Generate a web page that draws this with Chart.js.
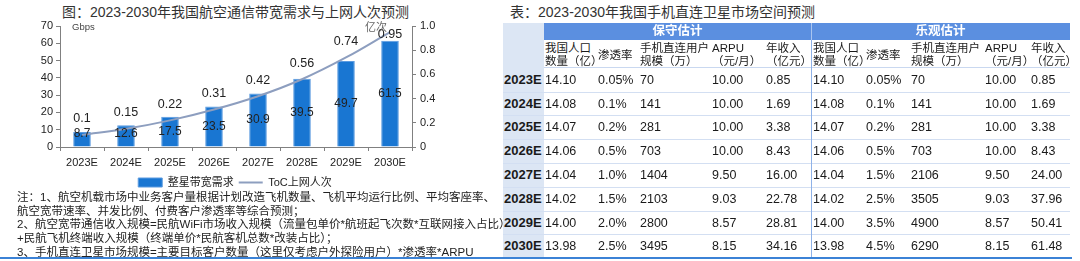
<!DOCTYPE html>
<html>
<head>
<meta charset="utf-8">
<script src="https://cdn.jsdelivr.net/npm/chart.js@4.4.0/dist/chart.umd.min.js"></script>
<style>
  body { margin: 0; width: 1080px; height: 261px; overflow: hidden; background: #fff;
         font-family: "Liberation Sans", "Noto Sans CJK SC", sans-serif; color: #1a1a1a; }
  .abs { position: absolute; white-space: nowrap; }
  .title { font-size: 14px; line-height: 18px; color: #333; top: 3px; }
  #chartBox { position: absolute; left: 0; top: 0; width: 470px; height: 198px; }
  #notes { left: 17px; top: 191px; font-size: 11.5px; line-height: 13.7px; color: #222; }
  .hd1 { color: #fff; font-weight: bold; font-size: 12.5px; line-height: 17px; text-align: center; }
  .hd2 { font-size: 11.5px; line-height: 13px; }
  .yr { font-weight: bold; font-size: 13px; line-height: 16px; }
  .val { font-size: 12.5px; line-height: 16px; }
</style>
</head>
<body>
<div class="abs title" style="left:62px">图：2023-2030年我国航空通信带宽需求与上网人次预测</div>
<div id="chartBox"><canvas id="chart" width="470" height="198"></canvas></div>
<div class="abs" style="left:72px; top:21px; font-size:9.5px; line-height:12px; color:#444">Gbps</div>
<div class="abs" style="left:365px; top:20px; font-size:11px; line-height:14px; color:#666">亿次</div>
<div class="abs" id="notes">注：1、航空机载市场中业务客户量根据计划改造飞机数量、飞机平均运行比例、平均客座率、<br>航空宽带速率、并发比例、付费客户渗透率等综合预测；<br>2、航空宽带通信收入规模=民航WiFi市场收入规模（流量包单价*航班起飞次数*互联网接入占比）<br>+民航飞机终端收入规模（终端单价*民航客机总数*改装占比）；<br>3、手机直连卫星市场规模=主要目标客户数量（这里仅考虑户外探险用户）*渗透率*ARPU</div>
<div class="abs title" style="left:510px">表：2023-2030年我国手机直连卫星市场空间预测</div>
<div id="tbl"></div>
<div class="abs" style="left:0; top:257px; width:1072px; height:2px; background:#3b82d6"></div>

<script>
// 图：带宽需求 + 上网人次
const years = ["2023E", "2024E", "2025E", "2026E", "2027E", "2028E", "2029E", "2030E"];
const bandwidth = [8.7, 12.6, 17.5, 23.5, 30.9, 39.5, 49.7, 61.5];
const visits = [0.1, 0.15, 0.22, 0.31, 0.42, 0.56, 0.74, 0.95];
const seriesNames = ["整星带宽需求", "ToC上网人次"];

// 表：手机直连卫星市场
const population = ["14.10", "14.08", "14.07", "14.06", "14.04", "14.02", "14.00", "13.98"];
const rateCons = ["0.05%", "0.1%", "0.2%", "0.5%", "1.0%", "1.5%", "2.0%", "2.5%"];
const usersCons = ["70", "141", "281", "703", "1404", "2103", "2800", "3495"];
const arpu = ["10.00", "10.00", "10.00", "10.00", "9.50", "9.03", "8.57", "8.15"];
const revCons = ["0.85", "1.69", "3.38", "8.43", "16.00", "22.78", "28.81", "34.16"];
const rateOpt = ["0.05%", "0.1%", "0.2%", "0.5%", "1.5%", "2.5%", "3.5%", "4.5%"];
const usersOpt = ["70", "141", "281", "703", "2106", "3505", "4900", "6290"];
const revOpt = ["0.85", "1.69", "3.38", "8.43", "24.00", "37.96", "50.41", "61.48"];
const groupNames = ["保守估计", "乐观估计"];
const colHeads = [["我国人口", "数量（亿）"], ["渗透率"], ["手机直连用户", "规模（万）"], ["ARPU", "（元/月）"], ["年收入", "（亿元）"]];

const FONT = '"Liberation Sans", "Noto Sans CJK SC", sans-serif';

// 数值标签：柱子居中，折线点上方
const valueLabels = {
  id: "valueLabels",
  afterDatasetsDraw(chart) {
    const { ctx, chartArea } = chart;
    ctx.save();
    ctx.textAlign = "center";
    ctx.textBaseline = "middle";
    ctx.fillStyle = "#222";
    ctx.font = "12px " + FONT;
    chart.getDatasetMeta(0).data.forEach((bar, i) => {
      const y = Math.min((bar.y + bar.base) / 2, chartArea.bottom - 13);
      ctx.fillText(bandwidth[i], bar.x, y);
    });
    ctx.font = "12.5px " + FONT;
    chart.getDatasetMeta(1).data.forEach((pt, i) => {
      const y = Math.max(pt.y - 16, chartArea.top + 9);
      ctx.fillText(visits[i], pt.x, y);
    });
    ctx.restore();
  }
};

const axisColor = "#808080";
new Chart(document.getElementById("chart"), {
  type: "bar",
  data: {
    labels: years,
    datasets: [
      { label: seriesNames[0], data: bandwidth, yAxisID: "y", order: 1,
        backgroundColor: "#1976d2", borderColor: "#5c9be0", borderWidth: 1,
        categoryPercentage: 1, barPercentage: 0.4, pointStyle: "rect" },
      { type: "line", label: seriesNames[1], data: visits, yAxisID: "y1", order: 0,
        borderColor: "#8d9ebf", borderWidth: 2, pointRadius: 0, tension: 0.4,
        pointStyle: "line", fill: false }
    ]
  },
  options: {
    responsive: false,
    animation: false,
    devicePixelRatio: 1,
    layout: { padding: { left: 18, right: 18, top: 26, bottom: 0 } },
    plugins: {
      tooltip: { enabled: false },
      legend: {
        position: "bottom",
        labels: {
          usePointStyle: true, pointStyleWidth: 24, boxHeight: 9, padding: 5,
          color: "#222", font: { family: FONT, size: 11 },
          sort: (a, b) => a.datasetIndex - b.datasetIndex
        }
      }
    },
    scales: {
      x: {
        grid: { drawOnChartArea: false, tickLength: 4, color: axisColor },
        border: { color: axisColor },
        ticks: { color: "#222", font: { family: FONT, size: 11 }, padding: 5 },
        afterFit: s => { s.height = 25; }
      },
      y: {
        min: 0, max: 70,
        ticks: { stepSize: 10, color: "#222", font: { family: FONT, size: 11 }, padding: 3 },
        grid: { drawOnChartArea: false, tickLength: 4, color: axisColor },
        border: { color: axisColor },
        afterFit: s => { s.width = 42; }
      },
      y1: {
        position: "right", min: 0, max: 1,
        ticks: { stepSize: 0.2, color: "#222", font: { family: FONT, size: 11 }, padding: 4 },
        grid: { drawOnChartArea: false, tickLength: 4, color: axisColor },
        border: { color: axisColor },
        afterFit: s => { s.width = 40; }
      }
    }
  },
  plugins: [valueLabels]
});

// 表格
const tbl = document.getElementById("tbl");
function box(x, y, w, h, bg) {
  const d = document.createElement("div");
  d.className = "abs";
  Object.assign(d.style, { left: x + "px", top: y + "px", width: w + "px", height: h + "px", background: bg });
  tbl.appendChild(d);
}
function text(x, y, str, cls, extra) {
  const d = document.createElement("div");
  d.className = "abs " + cls;
  d.textContent = str;
  d.style.left = x + "px";
  d.style.top = y + "px";
  if (extra) Object.assign(d.style, extra);
  tbl.appendChild(d);
}

const tLeft = 503, yrRight = 544, tRight = 1070, mid = 811;
const rowTop = [68, 92, 115, 139, 163, 187, 211, 234, 257];
const colX = [[545, 598, 640, 712, 766], [813, 866, 911, 985, 1031]];

box(tLeft, 23, yrRight - tLeft, 257 - 23, "#dce6f4");
box(yrRight, 23, tRight - yrRight, 17, "#5b8fe0");
box(yrRight, 67, tRight - yrRight, 1, "#c9d8f0");
for (let i = 1; i < rowTop.length - 1; i++) box(tLeft, rowTop[i], tRight - tLeft, 1, "#d3dff2");
box(mid, 23, 1, 17, "#a9c5f0");
box(mid, 40, 1, 217, "#8fb2e8");

text(yrRight, 23, groupNames[0], "hd1", { width: (mid - yrRight) + "px" });
text(mid, 23, groupNames[1], "hd1", { width: (tRight - mid) + "px" });

colX.forEach(cols => {
  cols.forEach((x, c) => {
    const h = colHeads[c];
    if (h.length === 1) text(x, 48.5, h[0], "hd2");
    else { text(x, 41.5, h[0], "hd2"); text(x, 54.5, h[1], "hd2"); }
  });
});

const blocks = [
  [population, rateCons, usersCons, arpu, revCons],
  [population, rateOpt, usersOpt, arpu, revOpt]
];
years.forEach((yr, r) => {
  const cy = (rowTop[r] + rowTop[r + 1]) / 2;
  text(tLeft + 1, cy - 8, yr, "yr");
  blocks.forEach((cols, b) => {
    cols.forEach((arr, c) => text(colX[b][c], cy - 8, arr[r], "val"));
  });
});
</script>
</body>
</html>
